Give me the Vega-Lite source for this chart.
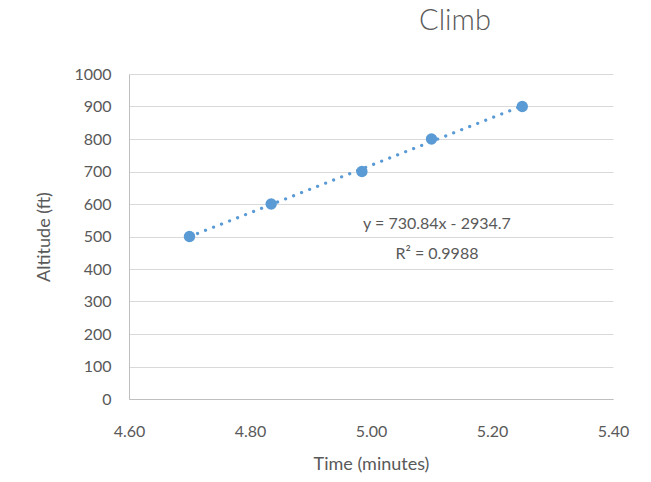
{
  "$schema": "https://vega.github.io/schema/vega-lite/v6.json",
  "width": 484,
  "height": 325,
  "autosize": {"type": "none"},
  "padding": {"left": 129, "top": 74, "right": 38, "bottom": 83},
  "background": "white",
  "title": {"text": "Climb", "font": "Lato", "fontSize": 29, "fontWeight": 300, "color": "#595959", "anchor": "middle", "dx": 84, "offset": 30},
  "config": {
    "view": {"stroke": null},
    "axis": {"labelFont": "Lato", "titleFont": "Lato", "labelColor": "#595959", "titleColor": "#595959", "labelFontSize": 16, "titleFontSize": 18, "titleFontWeight": "normal", "gridColor": "#D9D9D9", "domainColor": "#BFBFBF", "ticks": false, "labelOverlap": false, "labelFlush": false}
  },
  "data": {"values": [
    {"time": 4.70, "alt": 500},
    {"time": 4.835, "alt": 600},
    {"time": 4.985, "alt": 700},
    {"time": 5.10, "alt": 800},
    {"time": 5.25, "alt": 900}
  ]},
  "encoding": {
    "x": {"field": "time", "type": "quantitative", "scale": {"domain": [4.6, 5.4], "nice": false, "zero": false},
      "axis": {"values": [4.6, 4.8, 5.0, 5.2, 5.4], "format": ".2f", "grid": false, "title": "Time (minutes)", "labelPadding": 24, "titlePadding": 16}},
    "y": {"field": "alt", "type": "quantitative", "scale": {"domain": [0, 1000], "nice": false},
      "axis": {"values": [0,100,200,300,400,500,600,700,800,900,1000], "format": "d", "title": "Altitude (ft)", "labelPadding": 18, "titlePadding": 20}}
  },
  "layer": [
    {
      "transform": [{"regression": "alt", "on": "time"}],
      "mark": {"type": "line", "color": "#5B9BD5", "strokeWidth": 3.2, "strokeDash": [0.1, 8.5], "strokeCap": "round"}
    },
    {
      "mark": {"type": "point", "filled": true, "opacity": 1, "color": "#5B9BD5", "size": 130}
    },
    {
      "data": {"values": [
        {"time": 5.109, "alt": 538, "label": "y = 730.84x - 2934.7"},
        {"time": 5.109, "alt": 446, "label": "R² = 0.9988"}
      ]},
      "mark": {"type": "text", "font": "Lato", "fontSize": 16, "color": "#595959", "align": "center", "baseline": "middle"},
      "encoding": {
        "text": {"field": "label"}
      }
    }
  ]
}
